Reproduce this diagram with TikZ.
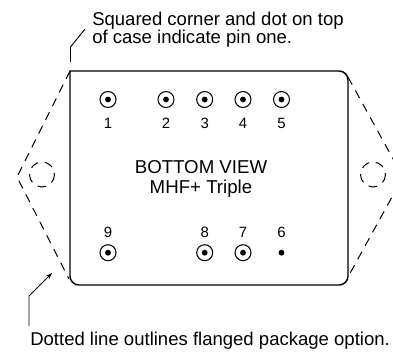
\documentclass[tikz,border=0pt]{standalone}
\usepackage{fontspec}
\setmainfont{Liberation Sans}
\usetikzlibrary{arrows.meta}
\tikzset{
  pinring/.style={circle,draw,line width=0.8pt,minimum size=12pt,inner sep=0pt},
  pindot/.style={circle,fill,minimum size=4.4pt,inner sep=0pt},
  pinlabel/.style={font=\fontsize{11.2pt}{13pt}\selectfont,inner sep=0pt,anchor=base},
  flange/.style={dash pattern=on 6.5pt off 5pt,line width=0.75pt},
  note/.style={font=\fontsize{13.9pt}{13.4pt}\selectfont,inner sep=0pt,align=left,anchor=base west}
}
\begin{document}
\begin{tikzpicture}[x=0.75pt,y=0.75pt,yscale=-1,xscale=1]
\useasboundingbox (0,0) rectangle (393,351);
%Shape: Flange outline
\draw [flange] (70,71) -- (17,177) -- (69,279);
\draw [flange] (348,77) -- (403,177) -- (348,277);
%Shape: Flange holes
\draw [flange] (42,174.5) circle [radius=12.5];
\draw [flange] (373,174.5) circle [radius=12.5];
%Shape: Case
\draw [line width=1.1pt,fill=white] (70,71) -- (339,71) .. controls (344,71) and (348,75) .. (348,80) -- (348,276) .. controls (348,281) and (344,285) .. (339,285) -- (79,285) .. controls (74,285) and (70,281) .. (70,276) -- cycle;
%Shape: Pins
\foreach \name/\px/\py in {1/108/99.5,2/166/99.5,3/204.7/99.5,4/243/99.5,5/281.5/99.5,9/108/252.7,8/204.7/252.7,7/243/252.7}{
  \node [pinring] (ring\name) at (\px,\py) {};
  \node [pindot] (dot\name) at (\px,\py) {};
}
\node [pindot] (dot6) at (281.5,252.7) {};
% Text Node
\foreach \name/\px/\py in {1/108/128,2/166/128,3/204.7/128,4/243/128,5/281.5/128,9/108/237.5,8/204.7/237.5,7/243/237.5,6/281.5/237.5}{
  \node [pinlabel] (label\name) at (\px,\py) {\name};
}
\node [font=\fontsize{14pt}{15pt}\selectfont,inner sep=0pt,align=center] (title) at (201,179) {BOTTOM VIEW\\MHF+ Triple};
\node [note] (topnote) at (92,43) {Squared corner and dot on top\\of case indicate pin one.};
\node [note] (botnote) at (30,345) {Dotted line outlines flanged package option.};
%Shape: Leaders
\coordinate (topa) at (70.5,62);
\coordinate (topb) at (70.5,47);
\coordinate (topc) at (85,29);
\coordinate (bota) at (29,326);
\coordinate (botb) at (29,296);
\coordinate (botc) at (52,273);
\draw [line width=0.7pt] (topa) -- (topb) -- (topc);
\draw [line width=0.7pt,-{Stealth[length=5pt,width=3.5pt]}] (bota) -- (botb) -- (botc);
\end{tikzpicture}
\end{document}
